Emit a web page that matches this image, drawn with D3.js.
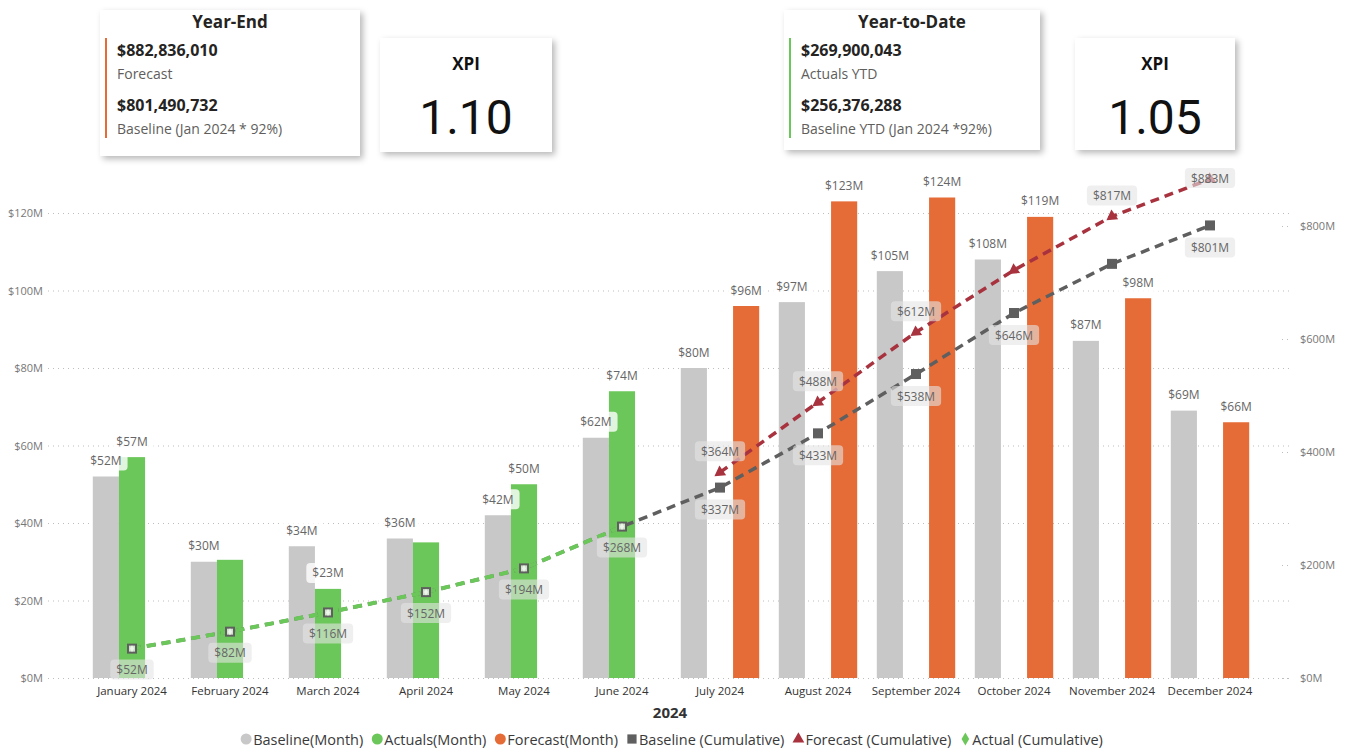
<!DOCTYPE html>
<html><head><meta charset="utf-8">
<script src="https://cdn.jsdelivr.net/npm/d3@7"></script>
<style>
html,body{margin:0;padding:0;background:#fff;}
svg{display:block;font-family:"Open Sans","Noto Sans",sans-serif;}
</style></head>
<body>
<svg id="c" width="1345" height="751"></svg>
<script>
// ---------- data ----------
const months = ["January 2024","February 2024","March 2024","April 2024","May 2024","June 2024",
  "July 2024","August 2024","September 2024","October 2024","November 2024","December 2024"];
const baselineMonth = [52,30,34,36,42,62,80,97,105,108,87,69];
const actualsMonth  = [57,30.5,23,35,50,74,null,null,null,null,null,null];
const forecastMonth = [null,null,null,null,null,null,96,123,124,119,98,66];
const actualsLabelShown = [true,false,true,false,true,true,false,false,false,false,false,false];
const baselineCum = [52,82,116,152,194,268,337,433,538,646,733,801];
const baselineCumLabelShown = [false,false,false,false,false,false,true,true,true,true,false,true];
const forecastCum = [null,null,null,null,null,null,364,488,612,722,817,883];
const forecastCumLabelShown = [false,false,false,false,false,false,true,true,true,false,true,true];
const actualCum = [52,82,116,152,194,268,null,null,null,null,null,null];
const leftTicks = [0,20,40,60,80,100,120];
const rightTicks = [0,200,400,600,800];
const xTitle = "2024";
const legendItems = ["Baseline(Month)","Actuals(Month)","Forecast(Month)","Baseline (Cumulative)","Forecast (Cumulative)","Actual (Cumulative)"];
const cards = [
  {title:"Year-End", v1:"$882,836,010", l1:"Forecast", v2:"$801,490,732", l2:"Baseline (Jan 2024 * 92%)", xpi:"1.10"},
  {title:"Year-to-Date", v1:"$269,900,043", l1:"Actuals YTD", v2:"$256,376,288", l2:"Baseline YTD (Jan 2024 *92%)", xpi:"1.05"}
];

// ---------- styles ----------
const FONT = '"Open Sans","Noto Sans",sans-serif';
const C = {base:"#C8C8C8", act:"#6CC75A", fc:"#E66C37", baseCum:"#5F5F5F", fcCum:"#A8333F", actCum:"#6CC75A"};
const svg = d3.select("#c");
const defs = svg.append("defs");
const f = defs.append("filter").attr("id","sh").attr("x","-10%").attr("y","-10%").attr("width","130%").attr("height","140%");
f.append("feDropShadow").attr("dx",3).attr("dy",3).attr("stdDeviation",3).attr("flood-color","#000").attr("flood-opacity",0.28);

// ---------- scales ----------
const x = d3.scaleBand().domain(months).range([83,1259]).paddingInner(0.2).paddingOuter(0.1);
const sub = d3.scaleBand().domain(["b","a","f"]).range([0,x.bandwidth()]);
const yL = d3.scaleLinear().domain([0,120]).range([678,213]);
const yR = d3.scaleLinear().domain([0,465/0.565]).range([678,213]);
const cx = m => x(m)+x.bandwidth()/2;

// ---------- gridlines + axes ----------
const g = svg.append("g");
const gl = d3.axisLeft(yL).tickValues(leftTicks).tickSize(0).tickFormat(d=>"$"+d+"M");
const la = g.append("g").attr("transform","translate(48,0)").call(gl).attr("font-family",FONT);
la.select(".domain").remove();
la.selectAll("text").attr("x",-5).attr("fill","#777").style("font-size","11px");
la.selectAll(".tick").append("line").attr("x1",0).attr("x2",1242).attr("stroke","#bdbdbd").attr("stroke-width",1).attr("stroke-dasharray","1,4");

const ra = g.append("g").attr("transform","translate(1296,0)").call(d3.axisRight(yR).tickValues(rightTicks).tickSize(0).tickFormat(d=>"$"+d+"M")).attr("font-family",FONT);
ra.select(".domain").remove();
ra.selectAll("text").attr("x",4).attr("fill","#777").style("font-size","11px");
ra.selectAll(".tick").append("line").attr("x1",-14).attr("x2",-4).attr("stroke","#bdbdbd").attr("stroke-dasharray","1,4");

const xa = g.append("g").attr("transform","translate(0,678)").call(d3.axisBottom(x).tickSize(0)).attr("font-family",FONT);
xa.select(".domain").remove();
xa.selectAll("text").attr("dy","0").attr("y",17).attr("fill","#333").style("font-size","11.5px");
svg.append("text").attr("x",670).attr("y",718).attr("text-anchor","middle").attr("font-weight","bold").attr("fill","#333").style("font-size","15px").text(xTitle);

// ---------- bars ----------
const bars = svg.append("g");
function drawBars(vals,key,color){
  bars.selectAll(null).data(months.map((m,i)=>({m,v:vals[i]})).filter(d=>d.v!=null)).enter().append("rect")
    .attr("x",d=>x(d.m)+sub(key)).attr("width",sub.bandwidth())
    .attr("y",d=>yL(d.v)).attr("height",d=>yL(0)-yL(d.v)).attr("fill",color);
}
drawBars(baselineMonth,"b",C.base);
drawBars(actualsMonth,"a",C.act);
drawBars(forecastMonth,"f",C.fc);

// ---------- bar labels ----------
const labG = svg.append("g").style("font-size","12px");
function label(parent,xp,yp,txt,boxFill,boxOp){
  const gg = parent.append("g");
  const r = gg.append("rect");
  const t = gg.append("text").attr("x",xp).attr("y",yp).attr("text-anchor","middle").attr("dominant-baseline","central").attr("fill","#666").text(txt);
  const w = t.node().getComputedTextLength();
  r.attr("x",xp-w/2-6).attr("y",yp-10).attr("width",w+12).attr("height",20).attr("rx",4).attr("fill",boxFill).attr("opacity",boxOp);
}
months.forEach((m,i)=>{
  const xb = x(m)+sub("b")+sub.bandwidth()/2;
  label(labG,xb,yL(baselineMonth[i])-16,"$"+baselineMonth[i]+"M","#fff",0.8);
  if(actualsMonth[i]!=null && actualsLabelShown[i]){
    const xa2 = x(m)+sub("a")+sub.bandwidth()/2;
    label(labG,xa2,yL(actualsMonth[i])-16,"$"+Math.round(actualsMonth[i])+"M","#fff",0.8);
  }
  if(forecastMonth[i]!=null){
    const xf = x(m)+sub("f")+sub.bandwidth()/2;
    label(labG,xf,yL(forecastMonth[i])-16,"$"+forecastMonth[i]+"M","#fff",0.8);
  }
});

// ---------- lines ----------
const lineG = svg.append("g");
const mk = () => d3.line().defined(d=>d.v!=null).x(d=>cx(d.m)).y(d=>yR(d.v));
const pts = arr => months.map((m,i)=>({m,v:arr[i],i}));
lineG.append("path").datum(pts(baselineCum)).attr("d",mk()).attr("fill","none").attr("stroke",C.baseCum).attr("stroke-width",3.5).attr("stroke-dasharray","9,6");
lineG.append("path").datum(pts(forecastCum)).attr("d",mk()).attr("fill","none").attr("stroke",C.fcCum).attr("stroke-width",3.5).attr("stroke-dasharray","9,6");
lineG.append("path").datum(pts(actualCum)).attr("d",mk()).attr("fill","none").attr("stroke",C.actCum).attr("stroke-width",4).attr("stroke-dasharray","9,6");

// markers
pts(baselineCum).forEach(d=>{
  lineG.append("rect").attr("x",cx(d.m)-5).attr("y",yR(d.v)-5).attr("width",10).attr("height",10).attr("fill",C.baseCum);
});
pts(actualCum).filter(d=>d.v!=null).forEach(d=>{
  lineG.append("rect").attr("x",cx(d.m)-3).attr("y",yR(d.v)-3).attr("width",6).attr("height",6).attr("fill","#cfe2cb");
  lineG.append("path").attr("d",d3.symbol(d3.symbolDiamond,14)()).attr("transform",`translate(${cx(d.m)},${yR(d.v)})`).attr("fill","#eef6ec");
});
pts(forecastCum).filter(d=>d.v!=null).forEach(d=>{
  lineG.append("path").attr("d",d3.symbol(d3.symbolTriangle,60)()).attr("transform",`translate(${cx(d.m)},${yR(d.v)}) rotate(235)`).attr("fill",C.fcCum);
});

// cumulative labels
const cumG = svg.append("g").style("font-size","12px");
pts(actualCum).filter(d=>d.v!=null).forEach(d=>label(cumG,cx(d.m),yR(d.v)+21,"$"+d.v+"M","#e4e4e4",0.6));
pts(baselineCum).filter(d=>baselineCumLabelShown[d.i]).forEach(d=>label(cumG,cx(d.m),yR(d.v)+22,"$"+d.v+"M","#e4e4e4",0.6));
pts(forecastCum).filter(d=>d.v!=null && forecastCumLabelShown[d.i]).forEach(d=>label(cumG,cx(d.m),Math.max(yR(d.v)-21,178),"$"+d.v+"M","#e4e4e4",0.6));

// ---------- legend ----------
const lg = svg.append("g").style("font-size","14.5px").attr("fill","#3a3a3a");
const lcol = [C.base,C.act,C.fc,C.baseCum,C.fcCum,C.actCum];
const lsym = [d3.symbolCircle,d3.symbolCircle,d3.symbolCircle,d3.symbolSquare,d3.symbolTriangle,d3.symbolDiamond];
const lsz = [95,95,95,85,60,50];
const items = legendItems.map((t,i)=>{
  const it = lg.append("g");
  it.append("path").attr("d",d3.symbol(lsym[i],lsz[i])()).attr("fill",lcol[i]);
  const tx = it.append("text").attr("x",7).attr("y",0).attr("dominant-baseline","central").text(t);
  return {it, w: 7 + tx.node().getComputedTextLength()};
});
const gap = 14;
const total = d3.sum(items,d=>d.w) + gap*(items.length-1) + 5;
let lxPos = 672 - total/2 + 5;
items.forEach(d=>{ d.it.attr("transform",`translate(${lxPos},739)`); lxPos += d.w + gap; });

// ---------- cards ----------
const cardPos = [{x:100,y:10,w:260,h:146, bar:"#E66C37", kx:380,ky:38,kw:172,kh:114},
                 {x:784,y:10,w:256,h:140, bar:"#6CC75A", kx:1075,ky:38,kw:160,kh:112}];
cards.forEach((c,i)=>{
  const p = cardPos[i];
  const cg = svg.append("g");
  cg.append("rect").attr("x",p.x).attr("y",p.y).attr("width",p.w).attr("height",p.h).attr("fill","#fff").attr("filter","url(#sh)");
  cg.append("text").attr("x",p.x+p.w/2).attr("y",p.y+18).attr("text-anchor","middle").attr("font-weight","bold").attr("fill","#252423").style("font-size","17px").text(c.title);
  cg.append("rect").attr("x",p.x+5).attr("y",p.y+28).attr("width",2).attr("height",100).attr("fill",p.bar);
  cg.append("text").attr("x",p.x+17).attr("y",p.y+46).attr("font-weight","bold").attr("fill","#252423").style("font-size","16px").text(c.v1);
  cg.append("text").attr("x",p.x+17).attr("y",p.y+69).attr("fill","#605E5C").style("font-size","14px").text(c.l1);
  cg.append("text").attr("x",p.x+17).attr("y",p.y+101).attr("font-weight","bold").attr("fill","#252423").style("font-size","16px").text(c.v2);
  cg.append("text").attr("x",p.x+17).attr("y",p.y+124).attr("fill","#605E5C").style("font-size","14px").text(c.l2);
  cg.append("rect").attr("x",p.kx).attr("y",p.ky).attr("width",p.kw).attr("height",p.kh).attr("fill","#fff").attr("filter","url(#sh)");
  cg.append("text").attr("x",p.kx+p.kw/2).attr("y",p.ky+32).attr("text-anchor","middle").attr("font-weight","bold").attr("fill","#111").style("font-size","17px").text("XPI");
  cg.append("text").attr("x",p.kx+p.kw/2).attr("y",p.ky+96).attr("text-anchor","middle").attr("fill","#111").style("font-family","Roboto").style("font-size","48px").text(c.xpi);
});
</script>
</body></html>
